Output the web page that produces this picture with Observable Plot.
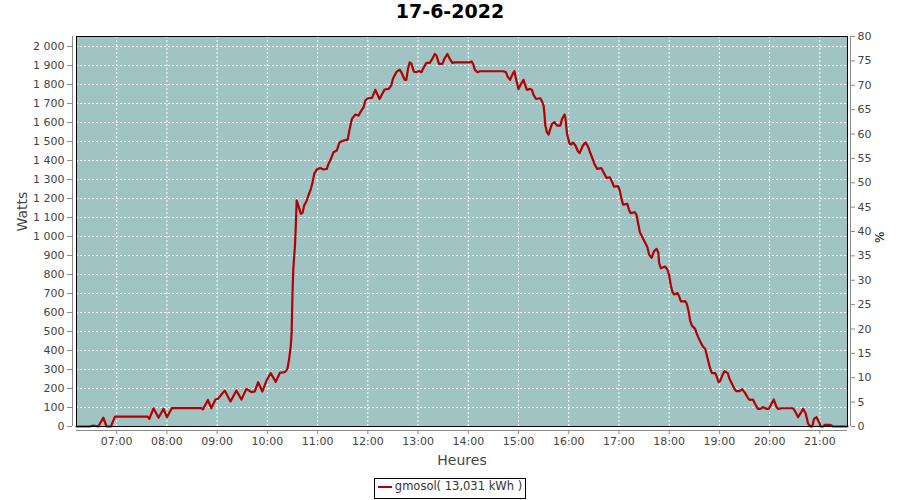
<!DOCTYPE html>
<html>
<head>
<meta charset="utf-8">
<script src="https://cdn.jsdelivr.net/npm/d3@7"></script>
<script src="https://cdn.jsdelivr.net/npm/@observablehq/plot@0.6"></script>
<style>
  html, body { margin: 0; padding: 0; background: #fff; overflow: hidden; }
  #title { height: 30px; line-height: 32px; text-align: center; font: bold 19px "DejaVu Sans", sans-serif; color: #000; overflow: visible; }
  #legend { text-align: center; margin-top: 6px; }
  #legend .box { display: inline-block; border: 1px solid #000; height: 19px; line-height: 19px; padding: 0 3px 0 3px; font: 11.5px "DejaVu Sans", sans-serif; color: #333; }
  #legend .sw { display: inline-block; width: 14px; height: 2px; background: #B40000; vertical-align: middle; margin-right: 3px; }
</style>
</head>
<body>
<div id="title">17-6-2022</div>
<div id="chart"></div>
<div id="legend"><span class="box"><span class="sw"></span>gmosol( 13,031 kWh )</span></div>
<script>
const times = ["06:12","06:28","06:32","06:38","06:44","06:48","06:53","06:58","07:37","07:39","07:44","07:50","07:56","08:00","08:06","08:41","08:43","08:49","08:53","08:58","09:01","09:09","09:16","09:23","09:29","09:35","09:41","09:45","09:49","09:54","09:59","10:04","10:10","10:15","10:21","10:24","10:26","10:28","10:29","10:30","10:31","10:33","10:34","10:35","10:37","10:40","10:42","10:44","10:47","10:49","10:52","10:54","10:56","10:59","11:03","11:07","11:11","11:13","11:16","11:19","11:23","11:26","11:31","11:36","11:38","11:41","11:45","11:49","11:51","11:55","11:57","12:00","12:05","12:09","12:14","12:20","12:25","12:28","12:30","12:34","12:38","12:40","12:44","12:46","12:48","12:50","12:52","12:55","12:58","13:01","13:04","13:06","13:10","13:14","13:17","13:20","13:22","13:25","13:29","13:32","13:35","13:38","13:41","13:44","14:02","14:04","14:06","14:08","14:11","14:14","14:42","14:45","14:47","14:50","14:53","14:55","14:57","15:00","15:03","15:06","15:07","15:10","15:14","15:16","15:18","15:21","15:26","15:28","15:30","15:31","15:32","15:34","15:36","15:38","15:40","15:43","15:46","15:50","15:52","15:55","15:56","15:58","16:01","16:03","16:05","16:08","16:11","16:13","16:17","16:20","16:23","16:25","16:29","16:31","16:34","16:39","16:42","16:45","16:49","16:52","16:54","16:59","17:01","17:03","17:05","17:10","17:12","17:14","17:19","17:21","17:23","17:25","17:28","17:31","17:34","17:36","17:39","17:42","17:45","17:47","17:48","17:50","17:55","17:58","18:00","18:02","18:04","18:06","18:10","18:12","18:14","18:19","18:21","18:23","18:25","18:27","18:31","18:33","18:35","18:38","18:40","18:43","18:45","18:47","18:49","18:51","18:55","18:57","18:59","19:01","19:04","19:06","19:10","19:12","19:15","19:18","19:20","19:24","19:27","19:30","19:34","19:36","19:40","19:43","19:46","19:49","19:52","19:56","19:59","20:02","20:05","20:08","20:10","20:14","20:28","20:31","20:34","20:37","20:40","20:43","20:46","20:49","20:51","20:53","20:56","20:59","21:01","21:04","21:06","21:12","21:16","21:33"];
const watts = [0,0,5,0,46,0,0,52,52,40,96,46,93,49,97,97,90,140,96,142,146,189,132,189,142,198,181,185,233,184,242,281,235,283,286,303,356,426,496,698,830,953,1058,1190,1163,1119,1125,1163,1189,1216,1251,1286,1330,1353,1361,1353,1356,1382,1409,1444,1453,1495,1505,1510,1560,1619,1642,1637,1654,1681,1716,1728,1730,1772,1724,1774,1777,1795,1830,1865,1879,1865,1825,1825,1883,1917,1910,1868,1865,1872,1865,1883,1914,1914,1935,1961,1953,1909,1909,1940,1961,1935,1914,1917,1917,1922,1905,1877,1865,1870,1870,1865,1842,1825,1856,1870,1830,1777,1803,1825,1810,1772,1777,1772,1746,1724,1728,1712,1689,1646,1584,1549,1537,1567,1593,1602,1584,1584,1619,1642,1625,1540,1488,1484,1496,1479,1449,1439,1479,1496,1474,1449,1404,1379,1356,1360,1335,1309,1312,1286,1263,1265,1242,1198,1168,1172,1140,1123,1128,1114,1067,1023,996,970,944,905,888,923,935,915,860,833,842,825,795,742,707,695,702,684,658,660,646,611,558,532,514,488,467,439,423,409,374,338,304,281,281,260,233,240,274,291,281,251,225,198,186,186,196,181,151,140,142,116,93,93,102,93,93,119,142,105,93,96,96,75,49,70,93,70,14,0,0,40,49,23,0,0,9,9,0,0];
const hourTicks = ["07:00","08:00","09:00","10:00","11:00","12:00","13:00","14:00","15:00","16:00","17:00","18:00","19:00","20:00","21:00"];
const wattTicks = [0,100,200,300,400,500,600,700,800,900,1000,1100,1200,1300,1400,1500,1600,1700,1800,1900,2000];
const pctTicks = [0,5,10,15,20,25,30,35,40,45,50,55,60,65,70,75,80];
const yMax = 2053;
const xStart = "06:12", xEnd = "21:33";

const toDate = s => { const [h, m] = s.split(":").map(Number); return new Date(Date.UTC(2022, 5, 17, h, m)); };
const data = times.map((t, i) => ({t: toDate(t), w: watts[i]}));
const xTicks = hourTicks.map(toDate);
const pctAsW = pctTicks.map(p => p * yMax / 80);
const fmtW = d => String(d).replace(/\B(?=(\d{3})+(?!\d))/g, " ");
const fmtH = d3.utcFormat("%H:%M");
const axisColor = "#8a8a8a";
const textColor = "#444";

const chart = Plot.plot({
  width: 900,
  height: 440,
  marginTop: 6,
  marginBottom: 44,
  marginLeft: 76,
  marginRight: 53,
  style: {fontFamily: "DejaVu Sans, sans-serif", fontSize: "11px", background: "white", color: textColor},
  x: {type: "utc", domain: [toDate(xStart), toDate(xEnd)]},
  y: {domain: [0, yMax]},
  marks: [
    Plot.frame({fill: "#9FC4C3", stroke: null}),
    Plot.gridX({ticks: xTicks, stroke: "white", strokeOpacity: 1, strokeDasharray: "2,2", strokeWidth: 1}),
    Plot.gridY({ticks: wattTicks, stroke: "white", strokeOpacity: 1, strokeDasharray: "2,2", strokeWidth: 1}),
    Plot.line(data, {x: "t", y: "w", stroke: "#B40000", strokeWidth: 2.2}),
    Plot.frame({stroke: "#000", strokeWidth: 1}),
    Plot.ruleX([toDate(xStart)], {dx: -4, stroke: axisColor}),
    Plot.axisY({anchor: "left", ticks: wattTicks, tickFormat: fmtW, tickSize: 5, tickPadding: 3, dx: -4, stroke: axisColor, fill: textColor, label: null}),
    Plot.ruleX([toDate(xEnd)], {dx: 3, stroke: axisColor}),
    Plot.axisY({anchor: "right", ticks: pctAsW, tickFormat: d => String(Math.round(d * 80 / yMax)), tickSize: 4, tickPadding: 3, dx: 3, stroke: axisColor, fill: textColor, label: null}),
    Plot.ruleY([0], {dy: 4, stroke: axisColor}),
    Plot.axisX({ticks: xTicks, tickFormat: fmtH, tickSize: 4, tickPadding: 3, dy: 4, stroke: axisColor, fill: textColor, label: null}),
    Plot.text(["Heures"], {frameAnchor: "bottom", dy: 34, lineAnchor: "middle", fontSize: 14, fill: textColor}),
    Plot.text(["Watts"], {frameAnchor: "left", dx: -54, rotate: -90, lineAnchor: "middle", fontSize: 14, fill: textColor}),
    Plot.text(["%"], {frameAnchor: "right", dx: 33, rotate: -90, lineAnchor: "middle", fontSize: 12, fill: "#000"})
  ]
});
document.getElementById("chart").appendChild(chart);
</script>
</body>
</html>
